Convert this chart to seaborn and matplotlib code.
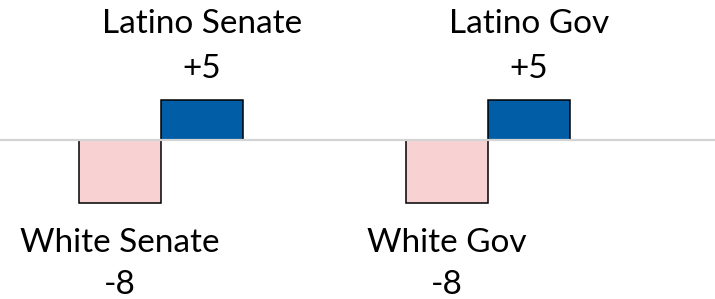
import matplotlib
matplotlib.use("Agg")
import matplotlib.pyplot as plt
import seaborn as sns
import pandas as pd

# Data
offices = ["Senate", "Gov"]
groups = ["White", "Latino"]
white_vals = [-8, -8]
latino_vals = [5, 5]

colors = {"White": "#F8D1D3", "Latino": "#005DA6"}

rows = []
for i, office in enumerate(offices):
    rows.append({"office": office, "group": "White", "value": white_vals[i]})
    rows.append({"office": office, "group": "Latino", "value": latino_vals[i]})
df = pd.DataFrame(rows)

sns.set_style("white")
plt.rcParams["font.family"] = ["Lato", "DejaVu Sans"]

fig = plt.figure(figsize=(7.15, 2.99), dpi=100)
ax = fig.add_axes([0, 0, 1, 1])

sns.barplot(data=df, x="office", y="value", hue="group", order=offices,
            hue_order=groups, palette=colors, saturation=1, width=0.5,
            errorbar=None, edgecolor="black", linewidth=1.1, ax=ax,
            legend=False)

# zero line over the bars
ax.axhline(0, color="#D4D4D4", lw=1.6, zorder=5)

ax.set_xlim(-0.492, 1.694)
ax.set_ylim(-20.19, 17.66)
ax.set_axis_off()

# labels: name and signed value, above for gains, below for losses
for group, cont in zip(groups, ax.containers):
    for office, bar in zip(offices, cont):
        v = bar.get_height()
        if bar.get_y() < 0:
            v = bar.get_y()
        cx = bar.get_x() + bar.get_width() / 2
        name = f"{group} {office}"
        val = f"{int(round(v)):+d}"
        if v > 0:
            offs = (67, 22)
        else:
            offs = (-49, -91)
        ax.annotate(name, xy=(cx, v), xytext=(0, offs[0]),
                    textcoords="offset pixels", ha="center", va="baseline",
                    fontsize=24, color="black")
        ax.annotate(val, xy=(cx, v), xytext=(0, offs[1]),
                    textcoords="offset pixels", ha="center", va="baseline",
                    fontsize=24, color="black")

fig.savefig("out.png", dpi=100)
